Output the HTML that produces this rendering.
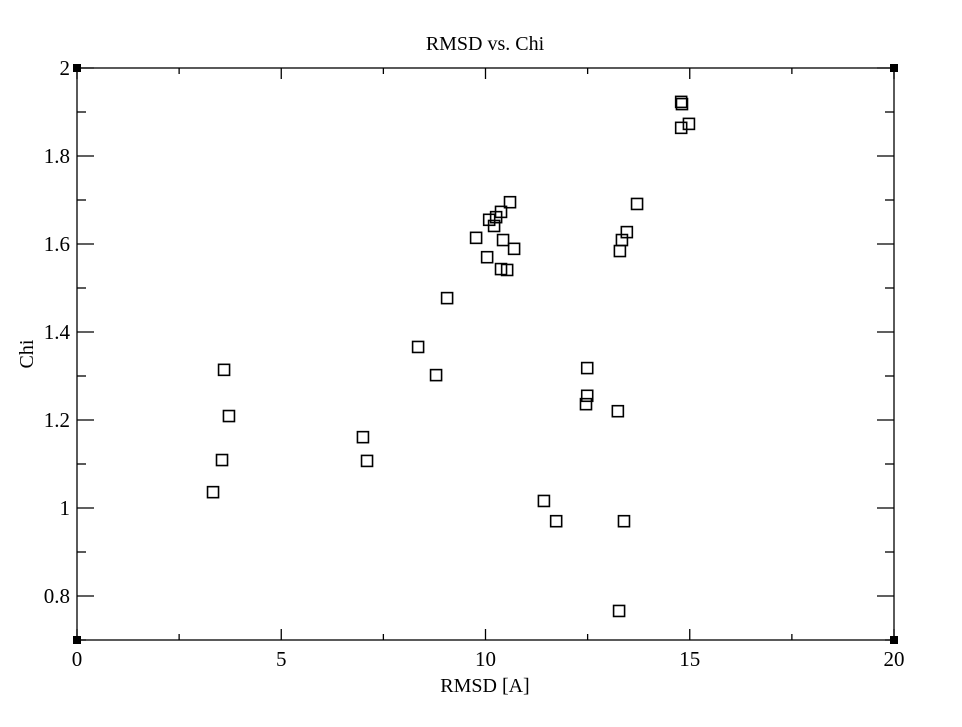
<!DOCTYPE html>
<html><head><meta charset="utf-8"><style>
html,body{margin:0;padding:0;background:#fff;}
svg{display:block;font-family:"Liberation Serif",serif;}
</style></head><body>
<svg id="chart" width="962" height="727" viewBox="0 0 962 727" xmlns="http://www.w3.org/2000/svg">
<rect width="962" height="727" fill="#fff"/>
<text x="485" y="50" text-anchor="middle" font-size="20">RMSD vs. Chi</text>
<text x="485" y="692" text-anchor="middle" font-size="20">RMSD [A]</text>
<text transform="translate(33,354) rotate(-90)" text-anchor="middle" font-size="20">Chi</text>
<g id="axes"></g>
<g id="marks"></g>
</svg>
<script>
const xValues=[3.33,3.55,3.60,3.72,7.00,7.10,8.35,8.79,9.06,9.77,10.04,10.09,10.21,10.26,10.38,10.43,10.38,10.53,10.60,10.70,11.43,11.73,12.46,12.49,12.49,13.24,13.27,13.29,13.34,13.39,13.46,13.71,14.79,14.81,14.79,14.98];
const yValues=[1.036,1.109,1.314,1.209,1.161,1.107,1.366,1.302,1.477,1.614,1.570,1.655,1.641,1.661,1.673,1.609,1.543,1.541,1.695,1.589,1.016,0.970,1.236,1.255,1.318,1.220,0.766,1.584,1.609,0.970,1.627,1.691,1.923,1.918,1.864,1.873];
const xTicks=[0,5,10,15,20];
const xMinor=[2.5,7.5,12.5,17.5];
const yTicks=[0.8,1,1.2,1.4,1.6,1.8,2];
const yTickLabels=["0.8","1","1.2","1.4","1.6","1.8","2"];
const yMinor=[0.7,0.9,1.1,1.3,1.5,1.7,1.9];

const L=77,R=894,T=68,B=640,xmin=0,xmax=20,ymin=0.7,ymax=2;
const sx=v=>L+(v-xmin)/(xmax-xmin)*(R-L);
const sy=v=>B-(v-ymin)/(ymax-ymin)*(B-T);
const NS="http://www.w3.org/2000/svg";
const axes=document.getElementById('axes'),marks=document.getElementById('marks');
function mk(tag,attrs,parent){const e=document.createElementNS(NS,tag);for(const k in attrs)e.setAttribute(k,attrs[k]);parent.appendChild(e);return e;}

const frame=mk('rect',{x:L,y:T,width:R-L,height:B-T,fill:'none',stroke:'#000','stroke-width':1.3},axes);



xTicks.forEach(v=>{
  const x=sx(v);
  const t1=mk('line',{x1:x,y1:B,x2:x,y2:B-11,stroke:'#000','stroke-width':1.3},axes);
  
  
  const t2=mk('line',{x1:x,y1:T,x2:x,y2:T+11,stroke:'#000','stroke-width':1.3},axes);
  
  
  const lb=mk('text',{x:x,y:B+26,'text-anchor':'middle','font-size':21},axes);
  lb.textContent=String(v);
  
  
});
xMinor.forEach(v=>{
  const x=sx(v);
  const t1=mk('line',{x1:x,y1:B,x2:x,y2:B-6,stroke:'#000','stroke-width':1.3},axes);
  
  
  const t2=mk('line',{x1:x,y1:T,x2:x,y2:T+6,stroke:'#000','stroke-width':1.3},axes);
  
  
});
yTicks.forEach((v,i)=>{
  const y=sy(v);
  const t1=mk('line',{x1:L,y1:y,x2:L+17,y2:y,stroke:'#000','stroke-width':1.3},axes);
  
  
  const t2=mk('line',{x1:R,y1:y,x2:R-17,y2:y,stroke:'#000','stroke-width':1.3},axes);
  
  
  const lb=mk('text',{x:L-7,y:y+7,'text-anchor':'end','font-size':21},axes);
  lb.textContent=yTickLabels[i];
  
  
});
yMinor.forEach(v=>{
  const y=sy(v);
  const t1=mk('line',{x1:L,y1:y,x2:L+9,y2:y,stroke:'#000','stroke-width':1.3},axes);
  
  
  const t2=mk('line',{x1:R,y1:y,x2:R-9,y2:y,stroke:'#000','stroke-width':1.3},axes);
  
  
});
[[L,T],[R,T],[L,B],[R,B]].forEach(p=>{
  const c=mk('rect',{x:p[0]-4,y:p[1]-4,width:8,height:8,fill:'#000'},axes);
  
  
});
xValues.forEach((xv,i)=>{
  const x=sx(xv),y=sy(yValues[i]);
  const m=mk('rect',{x:x-5.5,y:y-5.5,width:11,height:11,fill:'none',stroke:'#000','stroke-width':1.6},marks);
  
  
});
</script>
</body></html>
